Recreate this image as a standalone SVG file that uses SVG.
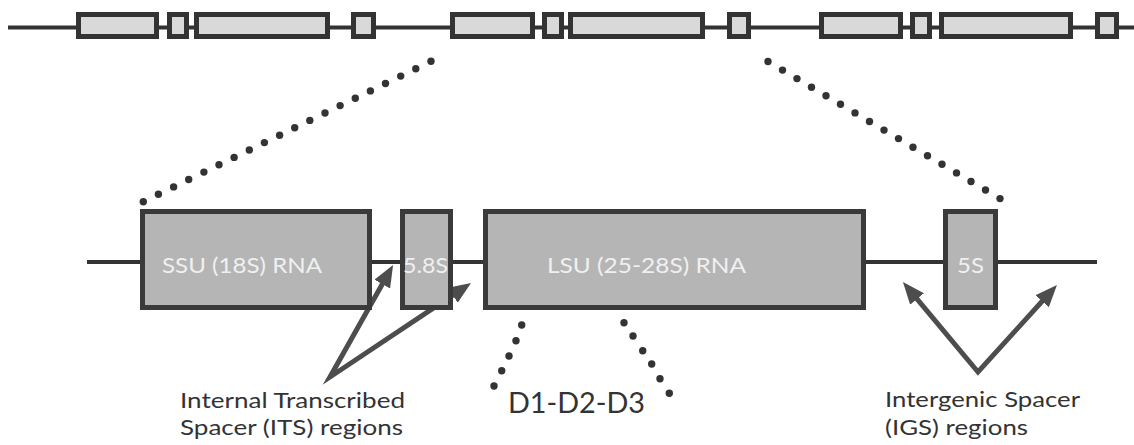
<svg xmlns="http://www.w3.org/2000/svg" width="1134" height="445" viewBox="0 0 1134 445">
<style>
.bg{fill:#ffffff}
.wire{stroke:#333;stroke-width:4;fill:none}
.tbox{fill:#d9d9d9;stroke:#333;stroke-width:5}
.box{fill:#b5b5b5;stroke:#3a3a3a;stroke-width:5}
.blabel{font-family:Lato,"Open Sans","Liberation Sans",sans-serif;font-size:22px;fill:#f0f0f0}
.label{font-family:Lato,"Open Sans","Liberation Sans",sans-serif;font-size:22px;fill:#333}
.dlabel{font-family:Lato,"Open Sans","Liberation Sans",sans-serif;font-size:28px;fill:#333}
.arrow{stroke:#4d4d4d;stroke-width:5;fill:none;stroke-linejoin:miter;stroke-miterlimit:20;marker-start:url(#ah);marker-end:url(#ah)}
.dot{fill:#333}
</style>
<defs>
<marker id="ah" markerUnits="userSpaceOnUse" markerWidth="24" markerHeight="20" refX="6" refY="9" orient="auto-start-reverse">
<path d="M0,0 L22,9 L0,18 z" fill="#4d4d4d"/>
</marker>
<circle id="d" r="3.7" class="dot"/>
</defs>
<rect class="bg" width="1134" height="445"/>

<g id="repeat-array">
<line class="wire" x1="8" y1="27.5" x2="1134" y2="27.5"/>
<rect class="tbox" x="78.5" y="14.5" width="78" height="22"/>
<rect class="tbox" x="169.5" y="14.5" width="17" height="22"/>
<rect class="tbox" x="196.5" y="14.5" width="131" height="22"/>
<rect class="tbox" x="353.5" y="14.5" width="20" height="22"/>
<rect class="tbox" x="452.5" y="14.5" width="80" height="22"/>
<rect class="tbox" x="544.5" y="14.5" width="17" height="22"/>
<rect class="tbox" x="570.5" y="14.5" width="132" height="22"/>
<rect class="tbox" x="729.5" y="14.5" width="19" height="22"/>
<rect class="tbox" x="821.5" y="14.5" width="79" height="22"/>
<rect class="tbox" x="912.5" y="14.5" width="17" height="22"/>
<rect class="tbox" x="941.5" y="14.5" width="129" height="22"/>
<rect class="tbox" x="1097.5" y="14.5" width="19" height="22"/>
</g>

<g id="connectors">
<line class="wire" x1="87" y1="262" x2="1097" y2="262"/>
<path class="arrow" d="M385.2,278.9 L330,377 L457.7,291.9"/>
<path class="arrow" d="M913.2,294.3 L978,372 L1046.2,296.8"/>
<g id="zoom-left-dots">
<use href="#d" x="143.3" y="201.7"/><use href="#d" x="158.4" y="194.3"/><use href="#d" x="173.6" y="186.9"/><use href="#d" x="188.7" y="179.5"/><use href="#d" x="203.9" y="172.1"/>
<use href="#d" x="219.0" y="164.8"/><use href="#d" x="234.1" y="157.4"/><use href="#d" x="249.3" y="150.0"/><use href="#d" x="264.4" y="142.6"/><use href="#d" x="279.6" y="135.2"/>
<use href="#d" x="294.7" y="127.8"/><use href="#d" x="309.8" y="120.4"/><use href="#d" x="325.0" y="113.0"/><use href="#d" x="340.1" y="105.6"/><use href="#d" x="355.3" y="98.2"/>
<use href="#d" x="370.4" y="90.9"/><use href="#d" x="385.5" y="83.5"/><use href="#d" x="400.7" y="76.1"/><use href="#d" x="415.8" y="68.7"/><use href="#d" x="431.0" y="61.3"/>
</g>
<g id="zoom-right-dots">
<use href="#d" x="768.0" y="61.5"/><use href="#d" x="782.5" y="70.1"/><use href="#d" x="797.0" y="78.6"/><use href="#d" x="811.5" y="87.2"/><use href="#d" x="826.0" y="95.8"/>
<use href="#d" x="840.5" y="104.3"/><use href="#d" x="855.0" y="112.9"/><use href="#d" x="869.5" y="121.5"/><use href="#d" x="884.0" y="130.1"/><use href="#d" x="898.5" y="138.6"/>
<use href="#d" x="913.0" y="147.2"/><use href="#d" x="927.5" y="155.8"/><use href="#d" x="942.0" y="164.3"/><use href="#d" x="956.5" y="172.9"/><use href="#d" x="971.0" y="181.5"/>
<use href="#d" x="985.5" y="190.0"/><use href="#d" x="1000.0" y="198.6"/>
</g>
<g id="d-dots">
<use href="#d" x="521.7" y="325"/><use href="#d" x="516" y="340.7"/><use href="#d" x="509" y="356"/><use href="#d" x="501.7" y="370.7"/><use href="#d" x="494" y="386"/>
<use href="#d" x="624" y="322.7"/><use href="#d" x="633" y="336"/><use href="#d" x="642.7" y="350.7"/><use href="#d" x="651.7" y="364"/><use href="#d" x="660" y="378.7"/><use href="#d" x="669.3" y="393.3"/>
</g>
</g>

<g id="ssu">
<rect class="box" x="142.5" y="211.5" width="227" height="96"/>
<text class="blabel" x="162" y="273" textLength="160" lengthAdjust="spacingAndGlyphs">SSU (18S) RNA</text>
</g>
<g id="its58">
<rect class="box" x="402.5" y="211.5" width="48" height="96"/>
<text class="blabel" x="403" y="273" textLength="45" lengthAdjust="spacingAndGlyphs">5.8S</text>
</g>
<g id="lsu">
<rect class="box" x="485.5" y="211.5" width="378" height="96"/>
<text class="blabel" x="547" y="273" textLength="199" lengthAdjust="spacingAndGlyphs">LSU (25-28S) RNA</text>
</g>
<g id="s5">
<rect class="box" x="945.5" y="211.5" width="50" height="96"/>
<text class="blabel" x="957" y="273" textLength="27" lengthAdjust="spacingAndGlyphs">5S</text>
</g>

<g id="its-label">
<text class="label" x="180" y="408" textLength="225" lengthAdjust="spacingAndGlyphs">Internal Transcribed</text>
<text class="label" x="180" y="435" textLength="223" lengthAdjust="spacingAndGlyphs">Spacer (ITS) regions</text>
</g>
<g id="d-label">
<text class="dlabel" x="508" y="413" textLength="137" lengthAdjust="spacingAndGlyphs">D1-D2-D3</text>
</g>
<g id="igs-label">
<text class="label" x="885" y="407" textLength="195" lengthAdjust="spacingAndGlyphs">Intergenic Spacer</text>
<text class="label" x="885" y="435" textLength="143" lengthAdjust="spacingAndGlyphs">(IGS) regions</text>
</g>
</svg>
